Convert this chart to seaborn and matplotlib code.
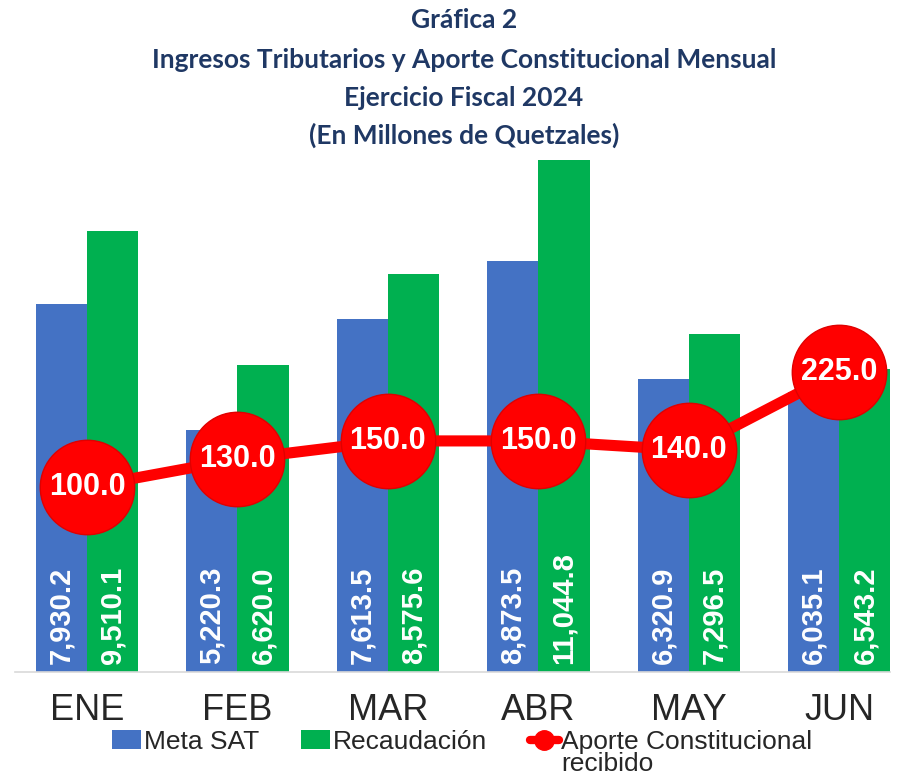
import matplotlib
matplotlib.use("Agg")
import matplotlib.pyplot as plt
import numpy as np
import pandas as pd
import seaborn as sns
from matplotlib.patches import Patch
from matplotlib.lines import Line2D

# Data (millones de quetzales)
meses = ["ENE", "FEB", "MAR", "ABR", "MAY", "JUN"]
meta_sat = [7930.2, 5220.3, 7613.5, 8873.5, 6320.9, 6035.1]
recaudacion = [9510.1, 6620.0, 8575.6, 11044.8, 7296.5, 6543.2]
aporte = [100.0, 130.0, 150.0, 150.0, 140.0, 225.0]

series = ["Meta SAT", "Recaudación"]
aporte_label = ["Aporte Constitucional", "recibido"]
title_lines = [
    "Gráfica 2",
    "Ingresos Tributarios y Aporte Constitucional Mensual",
    "Ejercicio Fiscal 2024",
    "(En Millones de Quetzales)",
]

BLUE = "#4472C4"
GREEN = "#00B050"
RED = "#FF0000"
NAVY = "#1F3864"

df = pd.DataFrame({
    "mes": meses * 2,
    "serie": [series[0]] * len(meses) + [series[1]] * len(meses),
    "valor": meta_sat + recaudacion,
})

sns.set_style("white")
plt.rcParams["font.family"] = ["Liberation Sans", "DejaVu Sans"]

W, H = 903, 779
fig = plt.figure(figsize=(W / 100, H / 100), dpi=100)
ax = fig.add_axes([15 / W, 1 - 672 / H, (890 - 15) / W, (672 - 150) / H])

sns.barplot(data=df, x="mes", y="valor", hue="serie", order=meses,
            palette=[BLUE, GREEN], width=0.68, saturation=1, ax=ax,
            legend=False, linewidth=0)

ax.set_xlim(-0.478, 5.336)
ax.set_ylim(0, 11260)
ax.set_xlabel("")
ax.set_ylabel("")
ax.set_yticks([])
for s in ["top", "right", "left"]:
    ax.spines[s].set_visible(False)
ax.spines["bottom"].set_color("#D9D9D9")
ax.spines["bottom"].set_linewidth(1.2)
ax.tick_params(axis="x", length=0, pad=15, labelsize=26)

# value labels inside bars, at the base
for container, vals in zip(ax.containers, [meta_sat, recaudacion]):
    for bar, v in zip(container, vals):
        cx = bar.get_x() + bar.get_width() / 2
        ax.annotate(f"{v:,.1f}", (cx, 0), xytext=(0, 6), textcoords="offset points",
                    rotation=90, ha="center", va="bottom", color="white",
                    fontsize=21, fontweight="bold")

# secondary axis: aporte constitucional
ax2 = ax.twinx()
x_pos = np.arange(len(meses))
sns.lineplot(x=x_pos, y=aporte, ax=ax2, color=RED, linewidth=8,
             marker="o", markersize=68, markeredgecolor="#E00000",
             markeredgewidth=1, legend=False)
ax2.set_ylim(-101, 466)
ax2.set_xlim(-0.478, 5.336)
ax2.set_yticks([])
ax2.set_ylabel("")
for s in ax2.spines.values():
    s.set_visible(False)
for xi, v in zip(x_pos, aporte):
    ax2.text(xi, v, f"{v:.1f}", ha="center", va="center", color="white",
             fontsize=22, fontweight="bold")

# titles
title_y = [20, 60, 98, 135]
for line, ty in zip(title_lines, title_y):
    fig.text(464 / W, 1 - ty / H, line, ha="center", va="center",
             fontsize=19, fontweight="bold", color=NAVY,
             family=["Lato", "DejaVu Sans"])

handles = [
    Patch(facecolor=BLUE, edgecolor="none"),
    Patch(facecolor=GREEN, edgecolor="none"),
    Line2D([0], [0], color=RED, linewidth=6, marker="o", markersize=14),
]
leg = fig.legend(handles, [series[0], series[1], aporte_label[0]], loc="upper center",
                 bbox_to_anchor=(0.512, 0.063), ncol=3, frameon=False, fontsize=19,
                 handlelength=1.1, handletextpad=0.1, columnspacing=1.6,
                 borderaxespad=0, borderpad=0)

# second line of the third legend entry, under its first line
fig.canvas.draw()
bb = leg.get_texts()[2].get_window_extent().transformed(fig.transFigure.inverted())
fig.text(bb.x0, bb.y0 + 0.002, aporte_label[1], ha="left", va="top", fontsize=19)

fig.savefig("out.png", dpi=100)
